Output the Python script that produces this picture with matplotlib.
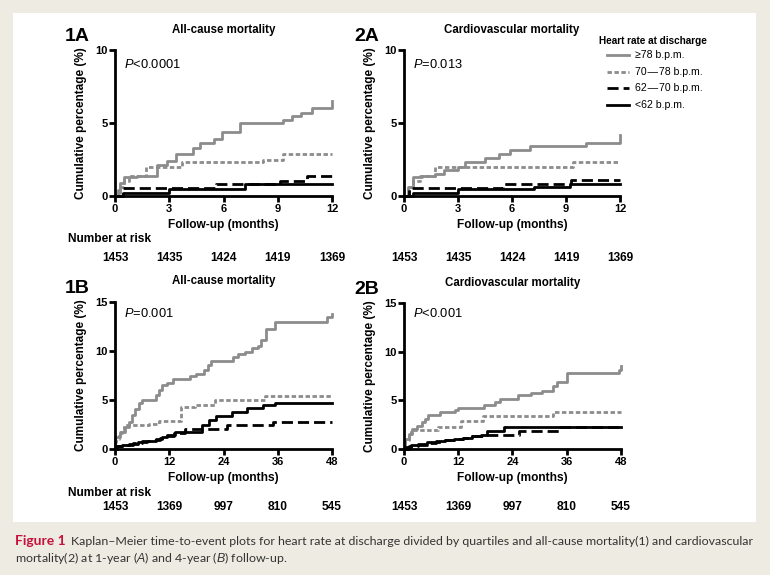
import matplotlib
matplotlib.use("Agg")
import matplotlib.pyplot as plt
from matplotlib.patches import Rectangle
from matplotlib.lines import Line2D
from matplotlib.transforms import blended_transform_factory

plt.rcParams['font.family'] = ['Liberation Sans', 'DejaVu Sans']
plt.rcParams['mathtext.fontset'] = 'custom'
plt.rcParams['mathtext.it'] = 'Liberation Sans:italic'
plt.rcParams['mathtext.rm'] = 'Liberation Sans'

groups = ['\u226578 b.p.m.', '70\u200a\u2014\u200a78 b.p.m.', '62\u200a\u2014\u200a70 b.p.m.', '<62 b.p.m.']

# 1A: all-cause, 1 year
t_1a_78 = [0, 0.15, 0.3, 0.5, 1.2, 2.3, 2.9, 3.4, 4.3, 4.7, 5.5, 5.9, 6.9, 9.3, 9.8, 10.3, 10.9, 12.0]
y_1a_78 = [0, 0.4, 0.9, 1.3, 1.4, 2.1, 2.4, 2.9, 3.3, 3.6, 3.9, 4.4, 5.0, 5.2, 5.5, 5.7, 6.0, 6.5]
t_1a_70 = [0, 0.3, 0.5, 0.8, 1.7, 3.7, 8.2, 9.3, 12]
y_1a_70 = [0, 0.6, 1.0, 1.4, 2.0, 2.3, 2.5, 2.85, 2.85]
t_1a_62 = [0, 0.46, 5.6, 9.1, 10.6, 12]
y_1a_62 = [0, 0.57, 0.8, 1.03, 1.37, 1.37]
t_1a_lo = [0, 0.46, 3.0, 7.2, 12]
y_1a_lo = [0, 0.2, 0.46, 0.8, 0.85]

# 2A: cardiovascular, 1 year
t_2a_78 = [0, 0.2, 0.5, 1.0, 1.7, 2.2, 3.0, 3.4, 4.5, 5.3, 5.9, 7.0, 10.1, 12]
y_2a_78 = [0, 0.6, 1.3, 1.4, 1.5, 1.8, 2.0, 2.35, 2.6, 2.9, 3.15, 3.4, 3.65, 4.2]
t_2a_70 = [0, 0.3, 0.5, 0.9, 1.7, 9.4, 12]
y_2a_70 = [0, 0.6, 1.0, 1.4, 2.0, 2.3, 2.3]
t_2a_62 = [0, 0.3, 5.5, 9.3, 12]
y_2a_62 = [0, 0.53, 0.8, 1.1, 1.1]
t_2a_lo = [0, 0.5, 3.0, 7.2, 9.2, 12]
y_2a_lo = [0, 0.2, 0.5, 0.65, 0.85, 0.85]

# 1B: all-cause, 4 years
t_1b_78 = [0, 0.1, 1.1, 2.25, 3.0, 3.75, 4.5, 5.25, 6.0, 9.0, 9.75, 10.5, 11.6, 12.75, 16.6, 17.9,
           19.7, 20.5, 21.3, 26.2, 27.3, 28.8, 30.2, 31.7, 32.4, 33.3, 35.4, 46.8, 48]
y_1b_78 = [0, 1.2, 1.7, 2.2, 2.75, 3.45, 4.1, 4.65, 5.0, 5.5, 6.0, 6.5, 6.7, 7.1, 7.4, 7.7,
           8.05, 8.6, 9.0, 9.4, 9.7, 9.9, 10.3, 10.5, 11.1, 12.2, 13.0, 13.5, 13.8]
t_1b_70 = [0, 0.3, 0.8, 1.5, 2.0, 7.5, 9.8, 14.7, 17.7, 22.1, 33.2, 48]
y_1b_70 = [0, 1.0, 1.6, 2.0, 2.4, 2.6, 2.9, 4.3, 4.5, 5.0, 5.45, 5.45]
t_1b_62 = [0, 0.5, 2, 4, 6, 8, 10, 11.5, 13, 15.5, 24.7, 35.0, 48]
y_1b_62 = [0, 0.3, 0.45, 0.6, 0.8, 0.95, 1.1, 1.35, 1.6, 2.0, 2.4, 2.8, 2.8]
t_1b_lo = [0, 0.5, 1.5, 3, 5, 7, 9, 10.5, 11.5, 13.2, 19.3, 20.8, 22.3, 25.8, 29.2, 32.8, 35.4, 48]
y_1b_lo = [0, 0.3, 0.45, 0.55, 0.7, 0.85, 1.0, 1.2, 1.4, 1.75, 2.5, 3.0, 3.4, 3.8, 4.15, 4.5, 4.72, 4.72]

# 2B: cardiovascular, 4 years
t_2b_78 = [0, 0.2, 1.0, 1.7, 2.8, 3.9, 4.6, 5.4, 8.0, 11.3, 12.0, 17.6, 20.1, 21.2, 25.3, 28.2,
           30.5, 32.9, 33.8, 36.0, 47.6, 48]
y_2b_78 = [0, 1.03, 1.55, 2.07, 2.4, 2.75, 3.1, 3.45, 3.8, 4.0, 4.2, 4.5, 4.8, 5.1, 5.5, 5.8,
           6.0, 6.5, 6.9, 7.8, 8.1, 8.5]
t_2b_70 = [0, 0.3, 1.0, 1.6, 7.6, 12.6, 17.4, 33.0, 48]
y_2b_70 = [0, 0.9, 1.5, 2.0, 2.3, 2.9, 3.35, 3.8, 3.8]
t_2b_62 = [0, 1, 3, 5, 7, 9, 11, 13, 15, 18.2, 25.5, 34.2, 48]
y_2b_62 = [0, 0.3, 0.45, 0.6, 0.75, 0.9, 1.0, 1.1, 1.3, 1.45, 1.8, 2.3, 2.3]
t_2b_lo = [0, 0.5, 1.5, 3, 5, 7, 9, 11, 13, 15, 17, 18.4, 22.2, 48]
y_2b_lo = [0, 0.2, 0.4, 0.55, 0.7, 0.85, 0.95, 1.05, 1.15, 1.3, 1.4, 1.85, 2.3, 2.3]

risk_1y = ['1453', '1435', '1424', '1419', '1369']
risk_4y = ['1453', '1369', '997', '810', '545']

styles = [
    dict(color='#8c8c8c', lw=2.0, ls='-'),
    dict(color='#8c8c8c', lw=2.0, ls=(0, (1.6, 0.9))),
    dict(color='black', lw=2.0, ls=(0, (4, 1.8))),
    dict(color='black', lw=2.0, ls='-'),
]

W, H = 770, 575
fig = plt.figure(figsize=(7.7, 5.75), dpi=100)
fig.patch.set_facecolor('#eeece2')
fig.patches.append(Rectangle((13 / W, 1 - 522 / H), (756 - 13) / W, (522 - 13) / H,
                             transform=fig.transFigure, facecolor='white', edgecolor='none', zorder=-5))


def px_axes(x0, x1, y_top, y_bot):
    return fig.add_axes([x0 / W, 1 - y_bot / H, (x1 - x0) / W, (y_bot - y_top) / H])


panels = [
    dict(pos=(115, 332, 50, 196), xmax=12, ymax=10, xt=[0, 3, 6, 9, 12], yt=[0, 5, 10],
         lab='1A', title='All-cause mortality', p=r'$P$<0.0001', py=0.904,
         data=[(t_1a_78, y_1a_78), (t_1a_70, y_1a_70), (t_1a_62, y_1a_62), (t_1a_lo, y_1a_lo)],
         risk=risk_1y, nar=True, ry=-0.425, ny=-0.295),
    dict(pos=(404, 620, 50, 196), xmax=12, ymax=10, xt=[0, 3, 6, 9, 12], yt=[0, 5, 10],
         lab='2A', title='Cardiovascular mortality', p=r'$P$=0.013', py=0.904,
         data=[(t_2a_78, y_2a_78), (t_2a_70, y_2a_70), (t_2a_62, y_2a_62), (t_2a_lo, y_2a_lo)],
         risk=risk_1y, nar=False, ry=-0.425, ny=-0.295),
    dict(pos=(115, 332, 302, 449), xmax=48, ymax=15, xt=[0, 12, 24, 36, 48], yt=[0, 5, 10, 15],
         lab='1B', title='All-cause mortality', p=r'$P$=0.001', py=0.925,
         data=[(t_1b_78, y_1b_78), (t_1b_70, y_1b_70), (t_1b_62, y_1b_62), (t_1b_lo, y_1b_lo)],
         risk=risk_4y, nar=True, ry=-0.395, ny=-0.30),
    dict(pos=(404, 621, 303, 449), xmax=48, ymax=15, xt=[0, 12, 24, 36, 48], yt=[0, 5, 10, 15],
         lab='2B', title='Cardiovascular mortality', p=r'$P$<0.001', py=0.925,
         data=[(t_2b_78, y_2b_78), (t_2b_70, y_2b_70), (t_2b_62, y_2b_62), (t_2b_lo, y_2b_lo)],
         risk=risk_4y, nar=False, ry=-0.395, ny=-0.30),
]

for pn in panels:
    x0, x1, yt_, yb_ = pn['pos']
    ax = px_axes(x0, x1, yt_, yb_)
    ax.set_facecolor('none')
    for (t, y), st, g in zip(pn['data'], styles, groups):
        ax.step(t, y, where='post', label=g, clip_on=False, **st)
    ax.set_xlim(0, pn['xmax'])
    ax.set_ylim(0, pn['ymax'])
    ax.set_xticks(pn['xt'])
    ax.set_yticks(pn['yt'])
    for s in ['top', 'right']:
        ax.spines[s].set_visible(False)
    for s in ['left', 'bottom']:
        ax.spines[s].set_linewidth(2.0)
    ax.tick_params(width=2.0, length=4, labelsize=8, pad=1.5)
    for lbl in ax.get_xticklabels() + ax.get_yticklabels():
        lbl.set_fontweight('bold')
    ax.set_xlabel('Follow-up (months)', fontsize=8.6, fontweight='bold', labelpad=4)
    ax.set_ylabel('Cumulative percentage (%)', fontsize=8.5, fontweight='bold', labelpad=0)
    ax.yaxis.set_label_coords(-0.13, 0.5)
    ax.text(0.5, 1.14, pn['title'], transform=ax.transAxes, ha='center', va='center',
            fontsize=8.3, fontweight='bold')
    ax.text(-0.23, 1.095, pn['lab'], transform=ax.transAxes, ha='left', va='center',
            fontsize=14, fontweight='bold')
    ax.text(0.04, pn['py'], pn['p'], transform=ax.transAxes, ha='left', va='center', fontsize=9.3)
    tr = blended_transform_factory(ax.transData, ax.transAxes)
    for xv, r in zip(pn['xt'], pn['risk']):
        ax.text(xv, pn['ry'], r, transform=tr, ha='center', va='center', fontsize=8.6,
                fontweight='bold')
    if pn['nar']:
        ax.text(68 / W, pn['ny'], 'Number at risk',
                transform=blended_transform_factory(fig.transFigure, ax.transAxes),
                ha='left', va='center', fontsize=8.6, fontweight='bold')

# legend drawn by hand so the handles sit indented under the title
fig.text(599 / W, 1 - 41 / H, 'Heart rate at discharge', fontsize=7.2, fontweight='bold',
         ha='left', va='center')
for i, (g, st) in enumerate(zip(groups, styles)):
    yy = 1 - (55 + i * 16.7) / H
    fig.add_artist(Line2D([607 / W, 629 / W], [yy, yy], transform=fig.transFigure, **st))
    fig.text(635 / W, yy, g, fontsize=7.6, ha='left', va='center')

cap1 = fig.text(15 / W, 1 - 541 / H, 'Figure 1', color='#c4103b', fontsize=10,
                fontweight='bold', family='Lato', va='center', ha='left')
fig.canvas.draw()
bb = cap1.get_window_extent(fig.canvas.get_renderer())
fig.text((bb.x1 + 5) / W, 1 - 541 / H,
         'Kaplan\u2013Meier time-to-event plots for heart rate at discharge divided by quartiles and '
         'all-cause mortality(1) and cardiovascular',
         color='#333333', fontsize=8.95, family='Lato', va='center', ha='left')
fig.text(15 / W, 1 - 558 / H, 'mortality(2) at 1-year ($\\it{A}$) and 4-year ($\\it{B}$) follow-up.',
         color='#333333', fontsize=8.95, family='Lato', va='center', ha='left')

fig.savefig('out.png', dpi=100, facecolor=fig.get_facecolor())
